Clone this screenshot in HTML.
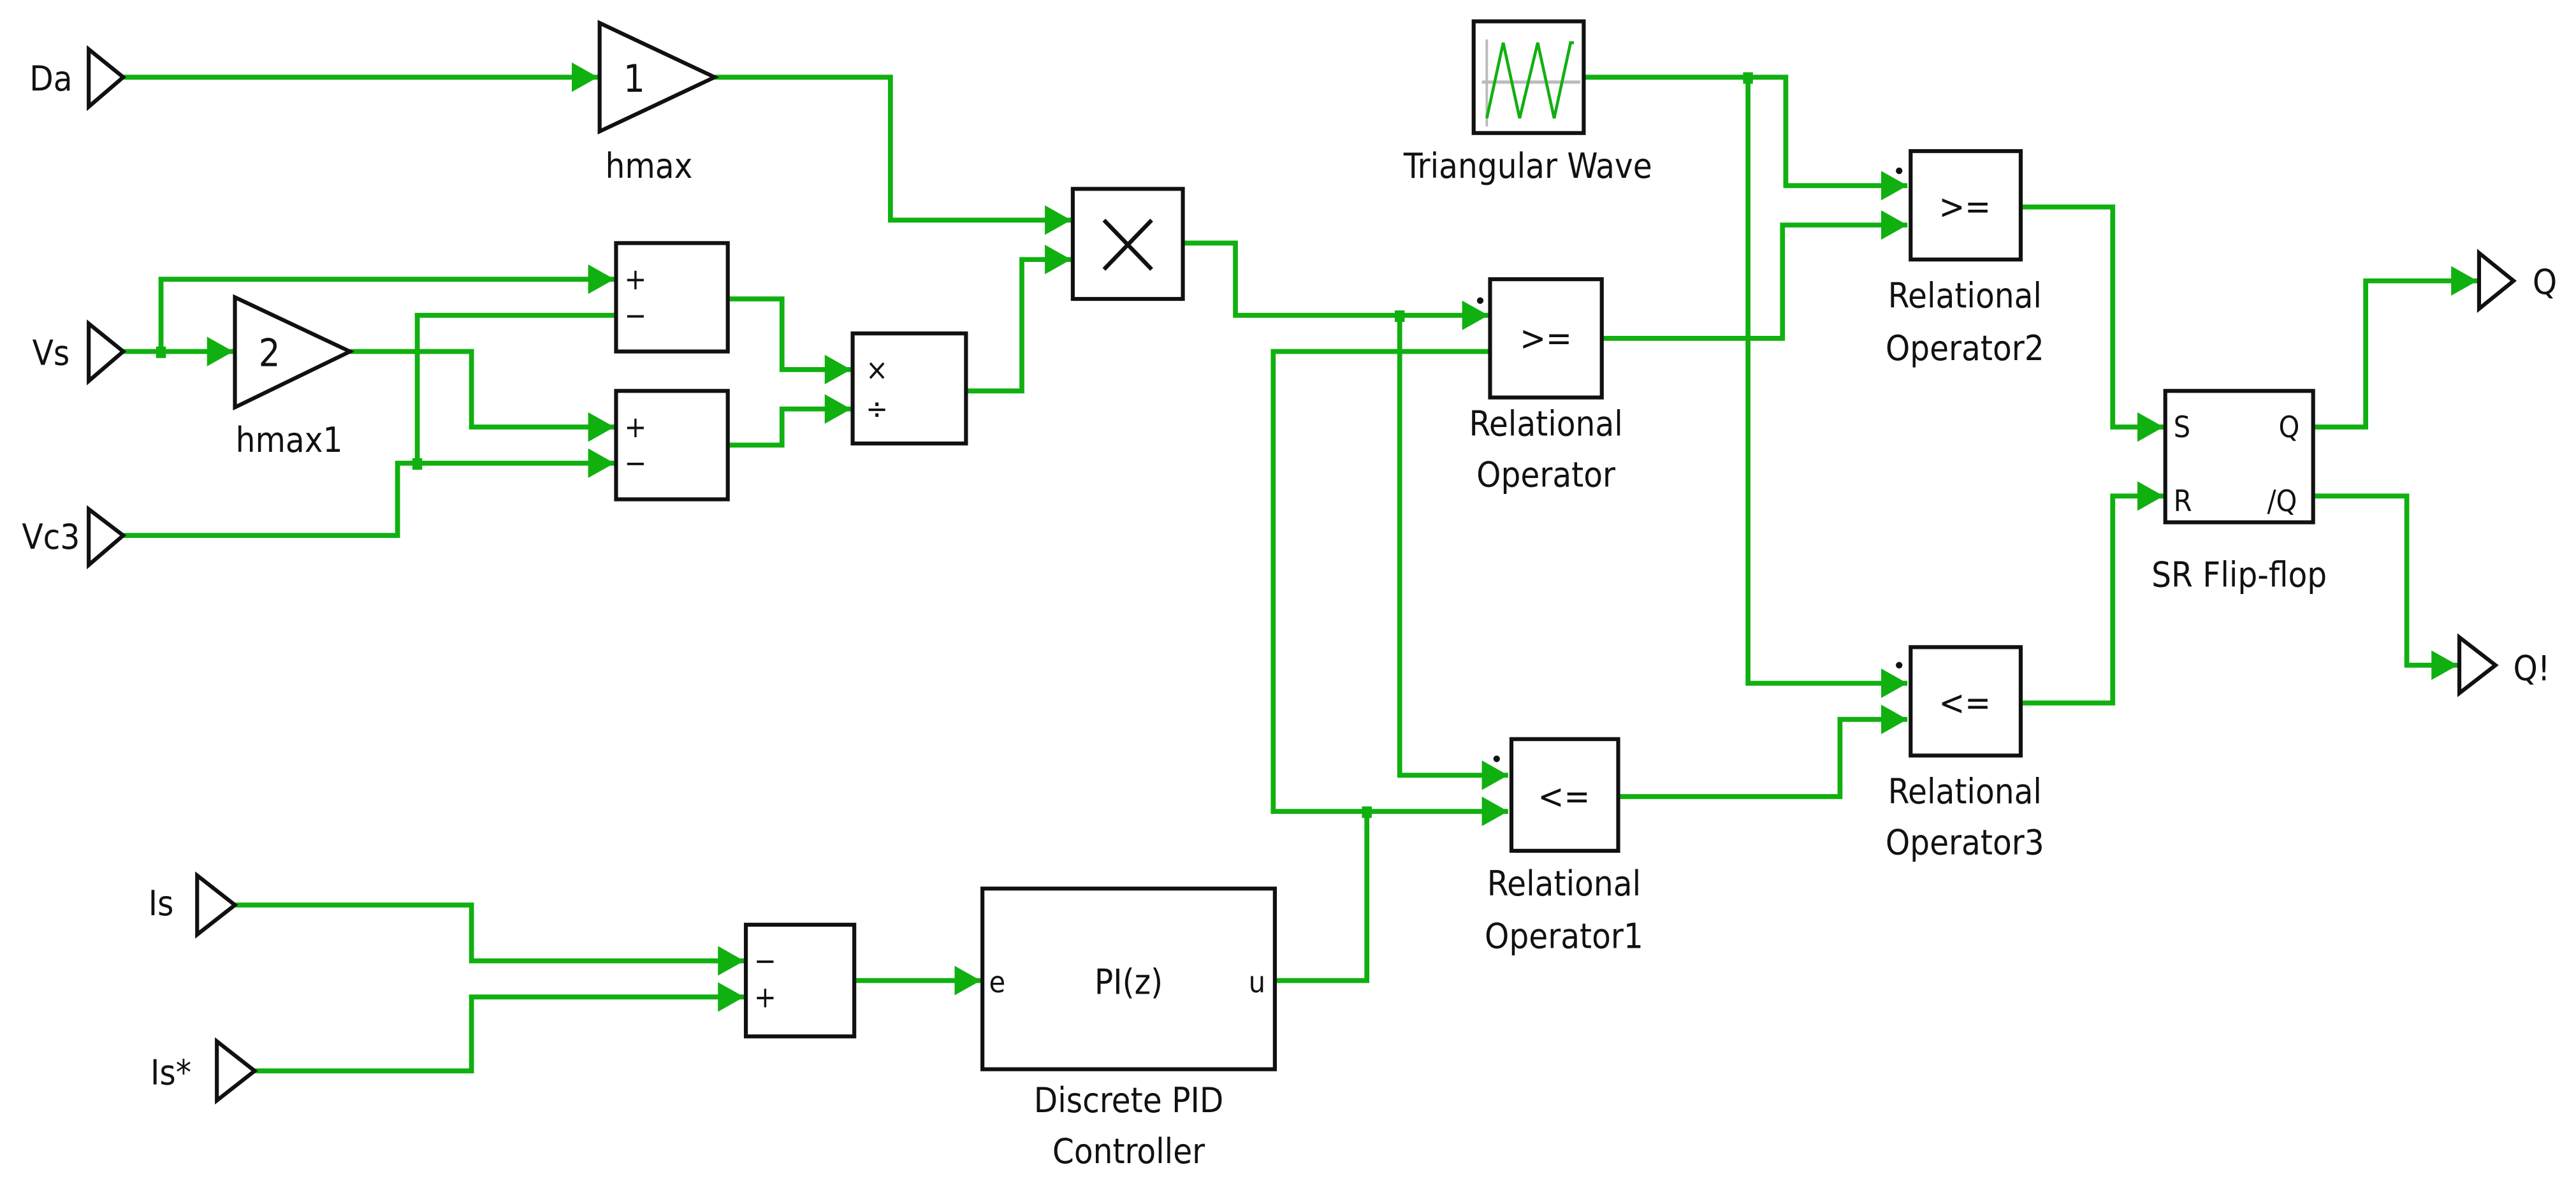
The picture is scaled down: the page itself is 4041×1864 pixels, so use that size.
<!DOCTYPE html>
<html><head><meta charset="utf-8"><style>
html,body{margin:0;padding:0;background:#fff;}
svg{display:block;}
text{font-family:"DejaVu Sans Condensed","Liberation Sans",sans-serif;font-size:21px;fill:#111;}
</style></head><body>
<svg width="4041" height="1864" viewBox="0 0 1568 723.3" preserveAspectRatio="none" xmlns="http://www.w3.org/2000/svg">
<defs>
<marker id="a" markerUnits="userSpaceOnUse" markerWidth="18" markerHeight="20" refX="16" refY="9" orient="auto">
<path d="M0,0 L16,9 L0,18 z" fill="#10b010"/>
</marker>
</defs>
<g fill="none" stroke="#10b010" stroke-width="3" stroke-linejoin="miter">
<polyline points="75,47 364,47" marker-end="url(#a)"/>
<polyline points="435,47 542,47 542,134 652,134" marker-end="url(#a)"/>
<polyline points="589,238 622,238 622,158 652,158" marker-end="url(#a)"/>
<polyline points="720,148 752,148 752,192 906,192" marker-end="url(#a)"/>
<polyline points="852,192 852,472 918,472" marker-end="url(#a)"/>
<polyline points="906,214 775,214 775,494 918,494" marker-end="url(#a)"/>
<polyline points="776,597 832,597 832,494"/>
<polyline points="975,206 1085,206 1085,137 1161,137" marker-end="url(#a)"/>
<polyline points="964,47 1087,47 1087,113 1161,113" marker-end="url(#a)"/>
<polyline points="1064,47 1064,416 1161,416" marker-end="url(#a)"/>
<polyline points="985,485 1120,485 1120,438 1161,438" marker-end="url(#a)"/>
<polyline points="1230,126 1286,126 1286,260 1317,260" marker-end="url(#a)"/>
<polyline points="1230,428 1286,428 1286,302 1317,302" marker-end="url(#a)"/>
<polyline points="1408,260 1440,260 1440,171 1508,171" marker-end="url(#a)"/>
<polyline points="1408,302 1465,302 1465,405 1496,405" marker-end="url(#a)"/>
<polyline points="75,214 142,214" marker-end="url(#a)"/>
<polyline points="98,214 98,170 374,170" marker-end="url(#a)"/>
<polyline points="374,192 254,192 254,282"/>
<polyline points="75,326 242,326 242,282 374,282" marker-end="url(#a)"/>
<polyline points="213,214 287,214 287,260 374,260" marker-end="url(#a)"/>
<polyline points="443,182 476,182 476,225 518,225" marker-end="url(#a)"/>
<polyline points="443,271 476,271 476,249 518,249" marker-end="url(#a)"/>
<polyline points="143,551 287,551 287,585 453,585" marker-end="url(#a)"/>
<polyline points="155,652 287,652 287,607 453,607" marker-end="url(#a)"/>
<polyline points="520,597 597,597" marker-end="url(#a)"/>
</g>
<g fill="#10b010">
<rect x="95" y="211" width="6" height="7"/>
<rect x="251" y="279" width="6" height="7"/>
<rect x="849" y="189" width="6" height="7"/>
<rect x="829" y="491" width="6" height="7"/>
<rect x="1061" y="44" width="6" height="7"/>
</g>
<g fill="none" stroke="#111" stroke-width="2.4">
<polygon points="54,30 75,47 54,65"/>
<polygon points="54,197 75,214 54,232"/>
<polygon points="54,310 75,326 54,344"/>
<polygon points="120,533 143,551 120,569"/>
<polygon points="132,634 155,652 132,670"/>
<polygon points="1509,154 1530,171 1509,188"/>
<polygon points="1497,388 1519,405 1497,422"/>
<polygon points="365,14 435,47 365,80"/>
<polygon points="143,181 213,214 143,248"/>
<rect x="653" y="115" width="67" height="67"/>
<rect x="375" y="148" width="68" height="66"/>
<rect x="375" y="238" width="68" height="66"/>
<rect x="519" y="203" width="69" height="67"/>
<rect x="907" y="170" width="68" height="72"/>
<rect x="920" y="450" width="65" height="68"/>
<rect x="1163" y="92" width="67" height="66"/>
<rect x="1163" y="394" width="67" height="66"/>
<rect x="1318" y="238" width="90" height="80"/>
<rect x="454" y="563" width="66" height="68"/>
<rect x="598" y="541" width="178" height="110"/>
<rect x="897" y="13" width="67" height="68"/>
</g>
<g stroke="#111" stroke-width="2.5">
<line x1="672" y1="134" x2="701" y2="164"/><line x1="701" y1="134" x2="672" y2="164"/>
</g>
<line x1="905" y1="24" x2="905" y2="77" stroke="#bbb" stroke-width="1.5"/>
<line x1="902" y1="50" x2="962" y2="50" stroke="#bbb" stroke-width="2"/>
<polyline points="905,72 915,26 925,72 936,26 946,72 956,26 958,26" fill="none" stroke="#10b010" stroke-width="1.8"/>
<g fill="#111">
<circle cx="901" cy="183" r="2"/><circle cx="911" cy="462" r="2"/>
<circle cx="1156" cy="104" r="2"/><circle cx="1156" cy="405" r="2"/>
</g>
<g text-anchor="middle" dominant-baseline="central">
<text x="31" y="48">Da</text>
<text x="31" y="215">Vs</text>
<text x="31" y="327">Vc3</text>
<text x="98" y="550">Is</text>
<text x="104" y="653">Is*</text>
<text x="1549" y="172">Q</text>
<text x="1541" y="407">Q!</text>
<text x="386" y="48" style="font-size:23px">1</text>
<text x="164" y="215" style="font-size:23px">2</text>
<text x="395" y="101">hmax</text>
<text x="176" y="268">hmax1</text>
<text x="930" y="101">Triangular Wave</text>
<text x="941" y="258">Relational</text><text x="941" y="289">Operator</text>
<text x="952" y="538">Relational</text><text x="952" y="570">Operator1</text>
<text x="1196" y="180">Relational</text><text x="1196" y="212">Operator2</text>
<text x="1196" y="482">Relational</text><text x="1196" y="513">Operator3</text>
<text x="1363" y="350">SR Flip-flop</text>
<text x="687" y="670">Discrete PID</text><text x="687" y="701">Controller</text>
<text x="941" y="206">&gt;=</text>
<text x="952" y="485">&lt;=</text>
<text x="1196" y="126">&gt;=</text>
<text x="1196" y="428">&lt;=</text>
<text x="687" y="598">PI(z)</text>
</g>
<g dominant-baseline="central">
<text x="380" y="170" style="font-size:18px">+</text>
<text x="380" y="192" style="font-size:18px">−</text>
<text x="380" y="260" style="font-size:18px">+</text>
<text x="380" y="282" style="font-size:18px">−</text>
<text x="527" y="225" style="font-size:18px">×</text>
<text x="527" y="249" style="font-size:18px">÷</text>
<text x="459" y="585" style="font-size:18px">−</text>
<text x="459" y="607" style="font-size:18px">+</text>
<text x="602" y="598" style="font-size:18px">e</text>
<text x="760" y="598" style="font-size:18px">u</text>
<text x="1323" y="260" style="font-size:18px">S</text>
<text x="1323" y="305" style="font-size:18px">R</text>
<text x="1387" y="260" style="font-size:18px">Q</text>
<text x="1380" y="305" style="font-size:18px">/Q</text>
</g>
</svg>
</body></html>
